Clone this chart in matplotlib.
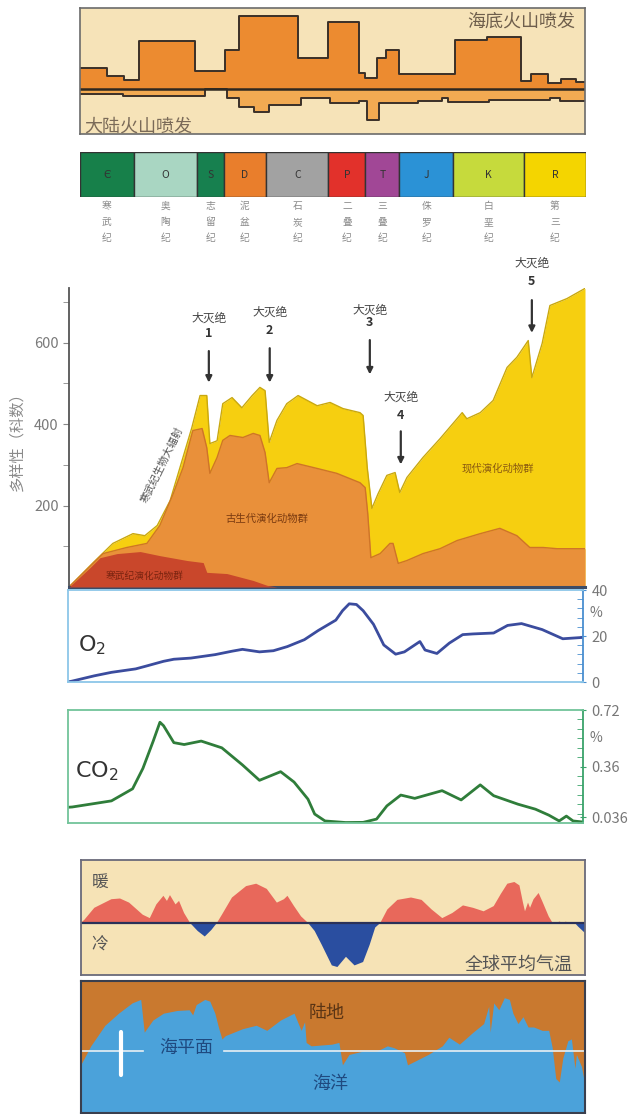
import numpy as np
import matplotlib
matplotlib.use('Agg')
import matplotlib.pyplot as plt
from matplotlib.ticker import MultipleLocator, FixedLocator

plt.rcParams['font.family'] = ['Noto Sans CJK SC', 'DejaVu Sans']

# ---------------- data ----------------
# volcanism (step series, arbitrary intensity units, baseline 0)
seafloor_edges = [0, 5.4, 8.7, 11.7, 22.7, 28.8, 31.4, 43.1, 49.2, 55.2, 56.5, 58.9,
                  60.5, 63.2, 74.2, 80.6, 87.3, 89.3, 92.6, 95.3, 98.3, 100]
seafloor_vals = [63, 38, 26, 143, 53, 115, 216, 91, 198, 48, 31, 91, 115, 45, 145,
                 153, 23, 43, 18, 30, 20]
continent_edges = [0, 8.5, 24.7, 29.1, 31.4, 34.4, 37.5, 43.8, 49.5, 55.2, 56.9, 59.2,
                   66.9, 71.6, 72.9, 80.9, 93.0, 95.0, 100]
continent_vals = [-15, -22, 0, -27, -55, -67, -47, -27, -42, -35, -92, -42, -37, -27,
                  -39, -32, -27, -35]

# geologic periods
period_letters = ['Є', 'O', 'S', 'D', 'C', 'P', 'T', 'J', 'K', 'R']
period_names = ['寒武纪', '奥陶纪', '志留纪', '泥盆纪', '石炭纪', '二叠纪', '三叠纪',
                '侏罗纪', '白垩纪', '第三纪']
period_edges = [0, 10.8, 23.2, 28.5, 36.9, 49.2, 56.5, 63.2, 73.9, 87.9, 100]
period_colors = ['#17804a', '#a9d6c2', '#17804f', '#e97e2c', '#a2a2a2', '#e2312b',
                 '#a14796', '#2b92d6', '#c6da3c', '#f4d500']

# diversity (number of families)
total_t = [0, 4.7, 8.5, 12.4, 14.7, 17.1, 19.6, 21.5, 23.8, 25.4, 26.7, 27.3, 28.7, 29.8,
           31.6, 33.5, 35.5, 37.0, 38.0, 38.8, 40.3, 42.2, 44.4, 48.1, 50.6, 53.1, 56.4,
           57.0, 57.8, 58.7, 59.9, 61.6, 63.2, 64.1, 65.5, 68.6, 71.9, 75.2, 76.2, 77.1,
           79.7, 82.2, 84.9, 86.8, 89.0, 89.7, 91.7, 93.2, 96.5, 100]
total_v = [0, 60, 107, 131, 126, 151, 212, 293, 391, 470, 470, 352, 359, 450, 465, 440,
           470, 490, 482, 355, 409, 450, 470, 445, 453, 438, 428, 421, 293, 193, 229, 274,
           281, 232, 269, 318, 364, 413, 428, 413, 428, 458, 539, 564, 605, 514, 598, 691,
           708, 733]
paleo_t = [0, 6.6, 11.2, 15.1, 17.6, 20.2, 22.1, 24.0, 25.8, 26.7, 27.3, 28.7, 29.8, 31.2,
           33.7, 35.7, 37.0, 38.0, 38.8, 40.3, 42.2, 44.2, 48.1, 51.9, 56.4, 57.4, 57.9,
           58.5, 60.3, 62.2, 62.8, 63.8, 65.5, 68.6, 71.9, 75.2, 79.7, 83.5, 86.8, 89.3,
           91.9, 94.6, 100]
paleo_v = [0, 82, 97, 107, 151, 229, 293, 384, 389, 342, 279, 318, 360, 372, 367, 377,
           372, 330, 256, 291, 293, 303, 291, 279, 256, 244, 180, 72, 82, 107, 107, 58, 65,
           82, 94, 114, 131, 144, 126, 97, 97, 94, 94]
cambr_t = [0, 4.1, 6.0, 9.3, 13.8, 17.6, 22.9, 26.0, 26.7, 30.6, 35.7, 38.4, 40.3, 100]
cambr_v = [0, 48, 72, 82, 87, 77, 65, 60, 36, 33, 16, 4, 0, 0]

ext_labels = ['1', '2', '3', '4', '5']
ext_t = [27.1, 38.9, 58.3, 64.3, 89.7]
ext_arrow_from = [586, 593, 613, 389, 711]
ext_arrow_to = [495, 495, 515, 294, 617]
ext_word_v = [659, 674, 680, 466, 794]
ext_num_v = [622, 630, 650, 421, 751]

# O2 (%)
o2_t = [0, 0.9, 5.2, 8.5, 13.2, 15.2, 18.6, 20.6, 23.9, 28.6, 31.9, 33.9, 37.2, 39.9,
        42.6, 45.9, 48.6, 52.0, 53.3, 54.6, 56.0, 57.3, 59.3, 61.3, 63.6, 65.3, 68.3,
        69.3, 71.6, 74.0, 76.6, 78.6, 82.6, 85.3, 88.0, 92.0, 96.0, 100]
o2_v = [0, 0.4, 2.7, 4.2, 5.7, 6.9, 9.0, 9.9, 10.4, 11.9, 13.4, 14.2, 13.1, 13.6, 15.4,
        18.4, 22.4, 26.9, 31.0, 34.0, 33.7, 31.0, 25.1, 16.1, 12.1, 13.1, 17.6, 13.9,
        12.4, 16.9, 20.6, 20.9, 21.3, 24.6, 25.4, 22.8, 18.8, 19.4]

# CO2 (%)
co2_t = [0, 0.9, 8.5, 12.6, 14.6, 16.6, 17.9, 18.6, 20.6, 22.6, 25.9, 29.9, 33.9, 37.2,
         41.3, 43.9, 46.6, 47.9, 49.9, 53.9, 57.3, 59.9, 61.9, 64.6, 67.3, 72.6, 76.3,
         80.0, 82.6, 87.3, 90.7, 93.3, 95.3, 96.7, 98.0, 100]
co2_v = [0.10, 0.102, 0.141, 0.218, 0.348, 0.522, 0.642, 0.620, 0.512, 0.500, 0.522,
         0.479, 0.370, 0.272, 0.327, 0.261, 0.152, 0.057, 0.013, 0.003, 0.004, 0.025,
         0.109, 0.178, 0.157, 0.206, 0.147, 0.243, 0.174, 0.120, 0.088, 0.050, 0.013,
         0.044, 0.013, 0.006]

# global mean temperature anomaly (arbitrary units)
temp_t = [0, 0.7, 2.7, 6.1, 7.8, 9.6, 12.3, 13.7, 15.0, 16.4, 17.1, 17.7, 18.8, 19.5,
          20.5, 21.7, 23.2, 24.6, 25.9, 27.0, 28.0, 30.0, 32.8, 34.8, 36.9, 38.9, 40.3,
          41.0, 42.3, 43.7, 45.1, 46.4, 47.8, 49.8, 50.9, 52.6, 54.3, 56.0, 57.3, 58.4,
          59.4, 60.8, 62.8, 65.5, 67.6, 69.6, 71.7, 73.7, 75.8, 77.8, 79.9, 81.9, 83.3,
          84.6, 86.0, 87.0, 87.7, 88.1, 88.7, 89.1, 89.8, 90.8, 91.5, 92.8, 93.5, 94.2,
          95.0, 95.6, 96.2, 96.8, 97.4, 98.0, 98.6, 99.7, 100]
temp_v = [0, 0.31, 1.52, 2.38, 2.45, 2.04, 0.83, 0.49, 1.86, 2.72, 2.21, 2.79, 1.86,
          2.21, 1.0, 0, -0.8, -1.35, -0.7, 0, 0.83, 2.55, 3.69, 3.93, 3.41, 2.04, 2.38,
          2.72, 1.69, 0.66, 0, -0.8, -2.18, -4.24, -4.4, -3.38, -4.24, -3.9, -2.18,
          -0.45, 0, 1.35, 2.31, 2.55, 2.31, 1.35, 0.49, 1.0, 1.76, 1.52, 1.17, 1.69, 2.9,
          3.93, 4.1, 3.76, 2.04, 1.17, 2.04, 1.52, 2.38, 3.0, 2.21, 0.66, 0.07, 0, 0.15,
          -0.1, 0.15, -0.1, 0.1, 0, -0.34, -0.86, -1.0]

# sea level relative to present (arbitrary units)
sea_t = [0, 2.0, 4.8, 7.5, 10.2, 11.9, 12.6, 14.3, 16.4, 19.1, 21.5, 22.2, 22.9, 24.6,
         25.6, 26.6, 27.3, 28.0, 28.7, 32.1, 34.8, 36.9, 39.6, 42.3, 43.7, 44.4, 44.7,
         45.7, 49.8, 51.2, 51.9, 53.2, 56.0, 58.7, 60.8, 62.1, 64.2, 64.8, 66.2, 68.9,
         71.7, 73.0, 75.1, 77.8, 79.9, 80.9, 81.2, 81.9, 82.9, 84.0, 85.0, 85.7, 86.7,
         87.7, 88.7, 89.8, 91.5, 92.8, 93.5, 94.2, 94.9, 95.6, 96.6, 97.3, 98.0, 98.3,
         99.3, 100]
sea_v = [-13.8, 5.2, 25.8, 37.9, 48.2, 51.7, 18.9, 31.0, 37.9, 40.6, 41.3, 36.2, 46.5,
         51.7, 49.9, 37.9, 24.1, 12.1, 15.5, 22.4, 25.8, 20.7, 31.0, 37.9, 20.7, 29.3,
         8.6, 5.2, 6.9, 8.6, -13.8, -3.4, 0, 0, 5.2, 3.4, -1.7, -13.8, -10.3, -3.4, 5.2,
         13.8, 6.9, 18.9, 27.5, 44.8, 18.9, 48.2, 41.3, 53.4, 51.7, 37.9, 27.5, 34.4,
         24.1, 24.1, 20.7, 20.7, 3.4, -27.5, -31.0, -6.9, 10.3, 12.1, -17.2, -3.4,
         -15.5, -34.4]

# ---------------- figure ----------------
W, H = 640, 1114
fig = plt.figure(figsize=(W / 100, H / 100), dpi=100)
fig.patch.set_facecolor('white')


def rect(x0, y0, x1, y1):
    return [x0 / W, 1 - y1 / H, (x1 - x0) / W, (y1 - y0) / H]


# ---- volcanism panel ----
ax = fig.add_axes(rect(80, 7.5, 585, 133.5))
ax.set_facecolor('#f6e3b8')
sv = np.append(seafloor_vals, seafloor_vals[-1])
cv = np.append(continent_vals, continent_vals[-1])
ax.fill_between(seafloor_edges, 0, sv, step='post', color='#ec8b30', lw=0)
ax.step(seafloor_edges, sv, where='post', color='#3a3028', lw=1.4)
ax.fill_between(continent_edges, cv, 0, step='post', color='#f2aa52', lw=0)
ax.step(continent_edges, cv, where='post', color='#3a3028', lw=1.4)
ax.axhline(0, color='#2e2820', lw=1.8)
ax.set_xlim(0, 100)
ax.set_ylim(-132, 241)
ax.set_xticks([]); ax.set_yticks([])
for s in ax.spines.values():
    s.set_color('#6b6b6b'); s.set_linewidth(1.2)
ax.text(98, 198, '海底火山喷发', ha='right', va='center', fontsize=13, color='#6e5e4c')
ax.text(0.8, -112, '大陆火山喷发', ha='left', va='center', fontsize=13, color='#7a6a58')

# ---- period bar ----
ax = fig.add_axes(rect(79.5, 152, 585.5, 197))
ax.bar(period_edges[:-1], 1, width=np.diff(period_edges), align='edge',
       color=period_colors, edgecolor='#333333', linewidth=1)
ax.set_xlim(0, 100); ax.set_ylim(0, 1)
ax.axis('off')
for i in range(len(period_letters)):
    cx = (period_edges[i] + period_edges[i + 1]) / 2
    ax.text(cx, 0.5, period_letters[i], ha='center', va='center', fontsize=7.5,
            color='#333333')
    for j, ch in enumerate(period_names[i]):
        ax.text(cx, -0.2 - j * 0.36, ch, ha='center', va='center', fontsize=7,
                color='#8a8a8a')

# ---- diversity ----
ax = fig.add_axes(rect(69, 288, 585, 587))
ax.fill_between(total_t, 0, total_v, color='#f6cf10', lw=0, zorder=1)
ax.plot(total_t, total_v, color='#c9a80e', lw=1, zorder=1.5)
ax.fill_between(paleo_t, 0, paleo_v, color='#e9903a', lw=0, zorder=2)
ax.plot(paleo_t, paleo_v, color='#cf7428', lw=1, zorder=2.5)
ax.fill_between(cambr_t, 0, cambr_v, color='#c9472b', lw=0, zorder=3)
ax.set_xlim(0, 100)
ax.set_ylim(0, 734)
for s in ['top', 'right']:
    ax.spines[s].set_visible(False)
ax.spines['left'].set_color('#555555'); ax.spines['left'].set_linewidth(1.3)
ax.spines['bottom'].set_color('#3d4c66'); ax.spines['bottom'].set_linewidth(2.2)
ax.set_xticks([])
ax.yaxis.set_major_locator(FixedLocator([200, 400, 600]))
ax.yaxis.set_minor_locator(FixedLocator([100, 300, 500, 700]))
ax.tick_params(axis='y', which='both', colors='#888888', labelsize=10.5, length=4,
               direction='out', labelcolor='#7a7a7a')
ax.set_ylabel('多样性（科数）', fontsize=11, color='#8a8a8a', labelpad=6)
for i in range(5):
    ax.annotate('', xy=(ext_t[i], ext_arrow_to[i]), xytext=(ext_t[i], ext_arrow_from[i]),
                arrowprops=dict(arrowstyle='-|>', color='#333333', lw=1.6,
                                mutation_scale=9), zorder=5, annotation_clip=False)
    ax.text(ext_t[i], ext_word_v[i], '大灭绝', ha='center', va='center', fontsize=8.5,
            color='#444444')
    ax.text(ext_t[i], ext_num_v[i], ext_labels[i], ha='center', va='center', fontsize=9,
            fontweight='bold', color='#333333')
ax.text(38.4, 168, '古生代演化动物群', ha='center', va='center', fontsize=7.5,
        color='#7a3a10', zorder=6)
ax.text(83.1, 291, '现代演化动物群', ha='center', va='center', fontsize=7.5,
        color='#8a5a10', zorder=6)
ax.text(14.7, 28, '寒武纪演化动物群', ha='center', va='center', fontsize=7,
        color='#7a2410', zorder=6)
ax.text(18.0, 300, '寒武纪生物大辐射', ha='center', va='center', fontsize=7.5,
        color='#555555', rotation=64, zorder=6)

# ---- O2 ----
ax = fig.add_axes(rect(67.6, 590, 583.4, 682))
ax.plot(o2_t, o2_v, color='#3b4c9e', lw=2)
ax.set_xlim(0, 100); ax.set_ylim(0, 40)
for s in ax.spines.values():
    s.set_color('#8cc6e8'); s.set_linewidth(1.3)
ax.spines['right'].set_color('#4a8fd0')
ax.set_xticks([])
ax.yaxis.tick_right()
ax.yaxis.set_major_locator(FixedLocator([0, 20, 40]))
ax.yaxis.set_minor_locator(MultipleLocator(4))
ax.tick_params(axis='y', which='major', colors='#4a8fd0', length=5, direction='inout',
               labelsize=10.5, labelcolor='#777777')
ax.tick_params(axis='y', which='minor', colors='#4a8fd0', length=4, direction='in')
ax.text(1.012, 30, '%', transform=ax.get_yaxis_transform(), ha='left', va='center',
        fontsize=10, color='#777777')
ax.text(0.02, 0.40, 'O$_2$', transform=ax.transAxes, ha='left', va='center',
        fontsize=16, color='#333333', family=['DejaVu Sans'])

# ---- CO2 ----
ax = fig.add_axes(rect(67.6, 710, 583.4, 823))
ax.plot(co2_t, co2_v, color='#2f7d3a', lw=2)
ax.set_xlim(0, 100); ax.set_ylim(0, 0.72)
for s in ax.spines.values():
    s.set_color('#72c49a'); s.set_linewidth(1.3)
ax.spines['right'].set_color('#3aa36a')
ax.set_xticks([])
ax.yaxis.tick_right()
ax.yaxis.set_major_locator(FixedLocator([0.036, 0.36, 0.72]))
ax.yaxis.set_major_formatter(matplotlib.ticker.FixedFormatter(['0.036', '0.36', '0.72']))
ax.yaxis.set_minor_locator(MultipleLocator(0.06))
ax.tick_params(axis='y', which='major', colors='#3aa36a', length=5, direction='inout',
               labelsize=10.5, labelcolor='#777777')
ax.tick_params(axis='y', which='minor', colors='#3aa36a', length=4, direction='in')
ax.text(1.012, 0.543, '%', transform=ax.get_yaxis_transform(), ha='left', va='center',
        fontsize=10, color='#777777')
ax.text(0.015, 0.46, 'CO$_2$', transform=ax.transAxes, ha='left', va='center',
        fontsize=16, color='#333333', family=['DejaVu Sans'])

# ---- temperature ----
ax = fig.add_axes(rect(80.7, 860, 585, 975))
ax.set_facecolor('#f6e3b6')
tt = np.array(temp_t); tv = np.array(temp_v)
ax.fill_between(tt, 0, tv, where=tv >= 0, interpolate=True, color='#e8685b', lw=0)
ax.fill_between(tt, 0, tv, where=tv <= 0, interpolate=True, color='#2a4ea0', lw=0)
ax.axhline(0, color='#2a3158', lw=1.6)
ax.set_xlim(0, 100); ax.set_ylim(-5.2, 6.3)
ax.set_xticks([]); ax.set_yticks([])
for s in ax.spines.values():
    s.set_color('#6a6a7a'); s.set_linewidth(1.3)
ax.text(3.8, 4.1, '暖', ha='center', va='center', fontsize=12, color='#555555')
ax.text(3.8, -2.2, '冷', ha='center', va='center', fontsize=12, color='#555555')
ax.text(97.6, -4.2, '全球平均气温', ha='right', va='center', fontsize=13,
        color='#555555')

# ---- sea level ----
ax = fig.add_axes(rect(80.7, 980.5, 585, 1113))
ax.set_facecolor('#c9792f')
ax.fill_between(sea_t, -62, sea_v, color='#4ba2da', lw=0)
ax.plot([0, 12.3], [0, 0], color='#e8f0f4', lw=1.2)
ax.plot([28.5, 100], [0, 0], color='#e8f0f4', lw=1.2)
ax.plot([8.05, 8.05], [-24, 19], color='white', lw=3, solid_capstyle='round')
ax.set_xlim(0, 100); ax.set_ylim(-62, 70.6)
ax.set_xticks([]); ax.set_yticks([])
for s in ax.spines.values():
    s.set_color('#3a3f4e'); s.set_linewidth(1.5)
ax.text(48.8, 37.9, '陆地', ha='center', va='center', fontsize=13, color='#5a3414')
ax.text(21.0, 3.0, '海平面', ha='center', va='center', fontsize=13, color='#1f4a80')
ax.text(49.4, -32.7, '海洋', ha='center', va='center', fontsize=13, color='#1f4a80')

fig.savefig('out.png', dpi=100)
